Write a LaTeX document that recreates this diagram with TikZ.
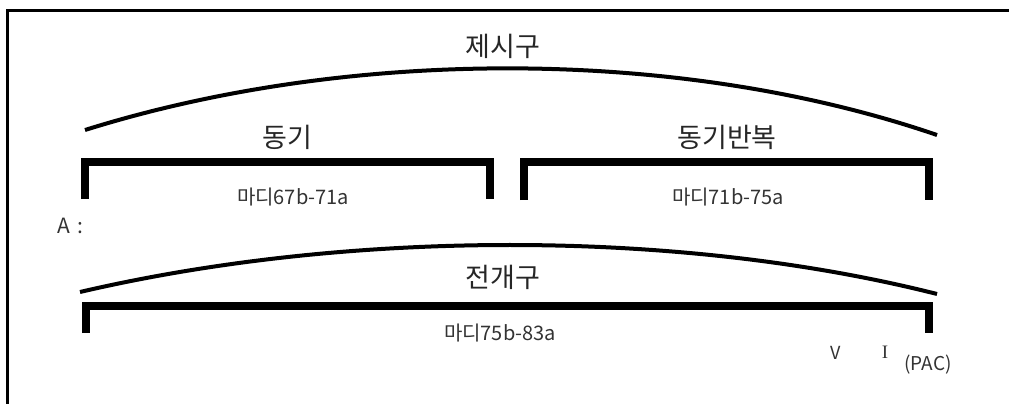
\documentclass[tikz,border=0pt]{standalone}
\usepackage{fontspec}
\newfontfamily\krfont{Noto Sans CJK KR}
\newfontfamily\romanfont{Liberation Serif}
\usetikzlibrary{positioning}

\begin{document}
\begin{tikzpicture}[
    x=1pt, y=-1pt,
    every node/.style={inner sep=0pt, font=\krfont},
    section/.style={font=\krfont\fontsize{27}{27}\selectfont, text=black!85},
    measure/.style={font=\krfont\fontsize{20}{20}\selectfont, text=black!80},
    arc/.style={line width=4pt},
    bracket/.style={line width=8pt, miter limit=10},
    frame/.style={line width=3pt}
]
\useasboundingbox (0,0) rectangle (1009,404);
% frame
\draw[frame] (7.5,404) -- (7.5,10.5) -- (1009,10.5);
% upper phrase
\draw[arc] (85,130) .. controls (350,47) and (680,47) .. (937,135);
\node[section] (present) at (503,46) {제시구};
\node[section] (motif) at (287,137) {동기};
\node[section] (repeat) at (727,137) {동기반복};
\draw[bracket] (85,199) -- (85,162) -- (490,162) -- (490,199);
\draw[bracket] (524,200) -- (524,162) -- (929,162) -- (929,200);
\node[measure] (bars1) at (293,197) {마디67b-71a};
\node[measure] (bars2) at (728,197) {마디71b-75a};
\node[measure, font=\krfont\fontsize{21}{21}\selectfont] (label) at (70,226) {A\hspace{0.35em}:};
% lower phrase
\draw[arc] (80,292) .. controls (350,229) and (680,229) .. (937,294);
\node[section] (develop) at (503,277) {전개구};
\draw[bracket] (86,333) -- (86,306) -- (929,306) -- (929,333);
\node[measure] (bars3) at (500,333) {마디75b-83a};
\node[measure, font=\krfont\fontsize{18}{18}\selectfont] (dom) at (836,353) {V};
\node[measure, font=\romanfont\fontsize{19}{19}\selectfont] (tonic) at (885,352) {I};
\node[measure, font=\krfont\fontsize{19}{19}\selectfont] (cad) at (928,365) {(PAC)};
\end{tikzpicture}
\end{document}
